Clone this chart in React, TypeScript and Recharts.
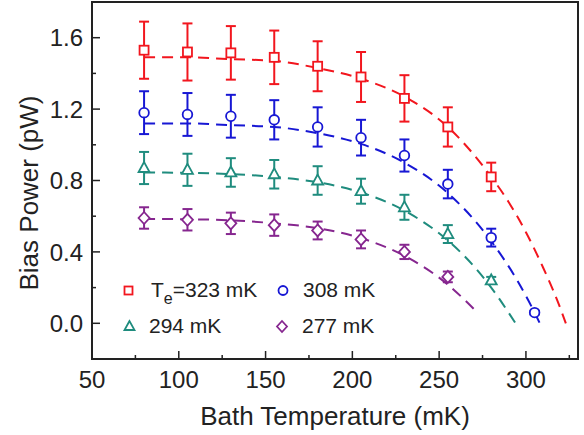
import { ComposedChart, Line, Scatter, ErrorBar, XAxis, YAxis } from 'recharts';

// bath temperatures (mK) where the points were measured
const tBath = [80, 105, 130, 155, 180, 205, 230, 255, 280, 305];

// measured bias power (pW) and error bars, one list per electron temperature
const p323 = [1.53, 1.52, 1.515, 1.49, 1.44, 1.38, 1.26, 1.1, 0.82];
const e323 = [0.16, 0.16, 0.15, 0.15, 0.14, 0.14, 0.13, 0.11, 0.08];
const p308 = [1.18, 1.17, 1.16, 1.14, 1.1, 1.04, 0.94, 0.78, 0.48, 0.06];
const e308 = [0.12, 0.12, 0.12, 0.11, 0.11, 0.1, 0.09, 0.08, 0.05, 0.01];
const p294 = [0.87, 0.86, 0.845, 0.835, 0.8, 0.74, 0.65, 0.5, 0.24];
const e294 = [0.09, 0.09, 0.08, 0.08, 0.08, 0.07, 0.07, 0.05, 0.02];
const p277 = [0.59, 0.58, 0.56, 0.55, 0.52, 0.47, 0.4, 0.26];
const e277 = [0.06, 0.06, 0.06, 0.06, 0.05, 0.05, 0.04, 0.03];

// dashed fit curves
const fitT323 = [80, 105, 130, 155, 180, 205, 230, 255, 280, 290, 300, 310, 318, 323];
const fit323 = [1.49, 1.49, 1.48, 1.47, 1.43, 1.37, 1.27, 1.1, 0.82, 0.68, 0.51, 0.31, 0.13, 0.0];
const fitT308 = [80, 105, 130, 155, 180, 205, 230, 255, 280, 295, 305, 308];
const fit308 = [1.12, 1.12, 1.11, 1.1, 1.065, 1.005, 0.9, 0.73, 0.46, 0.24, 0.06, 0.0];
const fitT294 = [80, 105, 130, 155, 180, 205, 230, 255, 270, 280, 290, 294];
const fit294 = [0.845, 0.843, 0.836, 0.82, 0.79, 0.733, 0.631, 0.464, 0.32, 0.2, 0.06, 0.0];
const fitT277 = [80, 105, 130, 155, 180, 205, 230, 255, 265, 271];
const fit277 = [0.585, 0.583, 0.577, 0.56, 0.533, 0.477, 0.378, 0.217, 0.128, 0.07];

const xTicks = [50, 75, 100, 125, 150, 175, 200, 225, 250, 275, 300, 325];
const yTicks = [0, 0.2, 0.4, 0.6, 0.8, 1.0, 1.2, 1.4, 1.6];

const RED = '#f2161e';
const BLUE = '#1717d4';
const TEAL = '#1f8c7e';
const PURPLE = '#86268f';
const INK = '#222';
const FONT = '"Liberation Sans", Arial, sans-serif';

// plot box (px): chart margins + axis sizes below
const W = 584;
const H = 435;
const PL = 92;
const PT = 2;
const PR = 578;
const PB = 359;

const pts = (xs: number[], ys: number[], es?: number[]) =>
  ys.map((y, i) => ({ x: xs[i], y, err: es ? es[i] : 0 }));

const XTick = ({ x, payload }: any) => {
  const major = payload.value % 50 === 0;
  return (
    <g>
      <line x1={x} x2={x} y1={PB} y2={PB - (major ? 8 : 4)} stroke={INK} strokeWidth={1.5} />
      {major && (
        <text x={x} y={388} textAnchor="middle" fontSize={24} fontFamily={FONT} fill={INK}>
          {payload.value}
        </text>
      )}
    </g>
  );
};

const YTick = ({ y, payload }: any) => {
  const v = Math.round(payload.value * 10);
  const major = v % 4 === 0;
  return (
    <g>
      <line x1={PL} x2={PL + (major ? 8 : 4)} y1={y} y2={y} stroke={INK} strokeWidth={1.5} />
      {major && (
        <text x={PL - 9} y={y} dy="0.36em" textAnchor="end" fontSize={24} fontFamily={FONT} fill={INK}>
          {payload.value.toFixed(1)}
        </text>
      )}
    </g>
  );
};

const square = (color: string) => (p: any) => (
  <rect x={p.cx - 4.5} y={p.cy - 4.5} width={9} height={9} fill="#fff" stroke={color} strokeWidth={1.8} />
);
const circle = (color: string) => (p: any) => (
  <circle cx={p.cx} cy={p.cy} r={4.8} fill="#fff" stroke={color} strokeWidth={1.8} />
);
const triangle = (color: string) => (p: any) => (
  <polygon
    points={`${p.cx},${p.cy - 6} ${p.cx - 5.5},${p.cy + 4} ${p.cx + 5.5},${p.cy + 4}`}
    fill="#fff"
    stroke={color}
    strokeWidth={1.8}
  />
);
const diamond = (color: string) => (p: any) => (
  <polygon
    points={`${p.cx},${p.cy - 6} ${p.cx + 5.5},${p.cy} ${p.cx},${p.cy + 6} ${p.cx - 5.5},${p.cy}`}
    fill="#fff"
    stroke={color}
    strokeWidth={1.8}
  />
);

// key box in the lower left of the plot
const Key = () => (
  <g transform="translate(110 270)" fontFamily={FONT} fill={INK} fontSize={21}>
    <rect x={14.5} y={16.5} width={8} height={8} fill="none" stroke={RED} strokeWidth={1.8} />
    <text x={41} y={27}>
      T<tspan fontSize={16} dy={7}>e</tspan>
      <tspan dy={-7}>=323 mK</tspan>
    </text>
    <circle cx={173} cy={20.5} r={4.5} fill="none" stroke={BLUE} strokeWidth={1.8} />
    <text x={193} y={27}>308 mK</text>
    <polygon points="19.5,51 14.5,60 24.5,60" fill="none" stroke={TEAL} strokeWidth={1.8} />
    <text x={39} y={63}>294 mK</text>
    <polygon points="172,51 177,56.5 172,62 167,56.5" fill="none" stroke={PURPLE} strokeWidth={1.8} />
    <text x={192} y={63}>277 mK</text>
  </g>
);

const fitLine = (xs: number[], ys: number[], color: string) => (
  <Line
    data={pts(xs, ys)}
    dataKey="y"
    type="monotone"
    stroke={color}
    strokeWidth={2}
    strokeDasharray="11 7"
    dot={false}
    activeDot={false}
    isAnimationActive={false}
  />
);

const series = (ys: number[], es: number[], color: string, shape: any) => (
  <Scatter data={pts(tBath, ys, es)} dataKey="y" shape={shape(color)} isAnimationActive={false}>
    <ErrorBar dataKey="err" direction="y" width={5} stroke={color} strokeWidth={2} />
  </Scatter>
);

export default function App() {
  return (
    <div style={{ position: 'absolute', left: 0, top: 0, width: W, height: H, background: '#fff' }}>
      <ComposedChart width={W} height={H} margin={{ top: PT, right: W - PR, bottom: 0, left: 0 }}>
        <XAxis
          dataKey="x"
          type="number"
          domain={[50, 330]}
          ticks={xTicks}
          interval={0}
          height={H - PB}
          tick={<XTick />}
          tickLine={false}
          axisLine={{ stroke: INK, strokeWidth: 1.8 }}
          label={{
            value: 'Bath Temperature (mK)',
            position: 'insideBottom',
            offset: 10,
            fontSize: 26,
            fontFamily: FONT,
            fill: INK,
          }}
        />
        <YAxis
          type="number"
          domain={[-0.2, 1.8]}
          ticks={yTicks}
          interval={0}
          width={PL}
          tick={<YTick />}
          tickLine={false}
          axisLine={{ stroke: INK, strokeWidth: 1.8 }}
        />
        {fitLine(fitT323, fit323, RED)}
        {fitLine(fitT308, fit308, BLUE)}
        {fitLine(fitT294, fit294, TEAL)}
        {fitLine(fitT277, fit277, PURPLE)}
        {series(p323, e323, RED, square)}
        {series(p308, e308, BLUE, circle)}
        {series(p294, e294, TEAL, triangle)}
        {series(p277, e277, PURPLE, diamond)}
        <Key />
        <text
          x={38}
          y={193}
          transform="rotate(-90 38 193)"
          textAnchor="middle"
          fontSize={26}
          fontFamily={FONT}
          fill={INK}
        >
          Bias Power (pW)
        </text>
      </ComposedChart>
      {/* plot frame, laid over the chart as a plain bordered box */}
      <div
        style={{
          position: 'absolute',
          left: PL - 1,
          top: PT - 1,
          width: PR - PL + 2,
          height: PB - PT + 2,
          border: `2px solid ${INK}`,
          boxSizing: 'border-box',
          pointerEvents: 'none',
        }}
      />
    </div>
  );
}
